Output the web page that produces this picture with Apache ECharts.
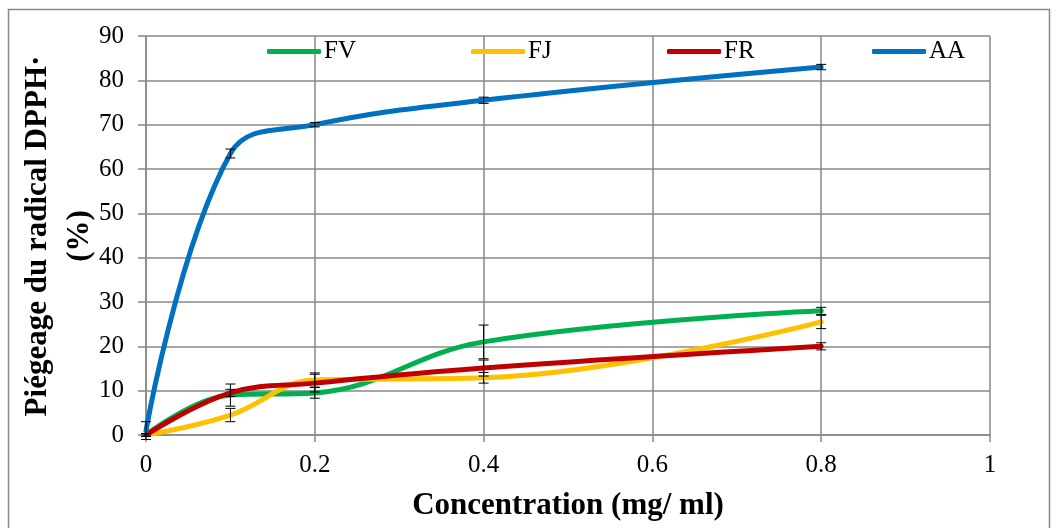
<!DOCTYPE html>
<html><head><meta charset="utf-8">
<script src="https://cdn.jsdelivr.net/npm/echarts@6/dist/echarts.min.js"></script>
<style>html,body{margin:0;padding:0;background:#fff}#c{width:1057px;height:528px}</style>
</head><body><div id="c"></div>
<script>
const concentrations = [0, 0.1, 0.2, 0.4, 0.8];
const seriesNames = ['FV', 'FJ', 'FR', 'AA'];
const FV = [0, 9, 9.5, 21, 28];
const FJ = [0, 4.5, 12.4, 12.9, 25.5];
const FR = [0, 9.5, 11.7, 15.1, 20];
const AA = [1, 63.5, 70, 75.5, 83];
const FV_err = [0.3, 2.5, 1.2, 3.8, 0.8];
const FJ_err = [0.3, 1.5, 1.6, 1.2, 1.5];
const FR_err = [0.3, 0.8, 2.0, 1.8, 0.8];
const AA_err = [2, 1, 0.5, 0.7, 0.6];
const yTicks = [0, 10, 20, 30, 40, 50, 60, 70, 80, 90];
const xTicks = [0, 0.2, 0.4, 0.6, 0.8, 1];
const yTitle = ['Piégeage du radical DPPH·', '(%)'];
const xTitle = 'Concentration (mg/ ml)';

const colors = {FV:'#00B050', FJ:'#FFC000', FR:'#C00000', AA:'#0070C0'};
const values = {FV, FJ, FR, AA};
const errs = {FV:FV_err, FJ:FJ_err, FR:FR_err, AA:AA_err};
const serif = '"Liberation Serif","Times New Roman",serif';

const series = [];
seriesNames.forEach(n => {
  series.push({
    name: n, type: 'line', smooth: 0.4, symbol: 'none', z: 3,
    lineStyle: {color: colors[n], width: 5, cap: 'round'},
    itemStyle: {color: colors[n]},
    data: concentrations.map((x, i) => [x, values[n][i]])
  });
});
seriesNames.forEach(n => {
  series.push({
    type: 'custom', z: 4, silent: true,
    data: concentrations.map((x, i) => [x, values[n][i] - errs[n][i], values[n][i] + errs[n][i]]),
    renderItem: function (params, api) {
      const lo = api.coord([api.value(0), api.value(1)]);
      const hi = api.coord([api.value(0), api.value(2)]);
      const w = 5;
      const st = {stroke: '#000', lineWidth: 1};
      return {type: 'group', children: [
        {type: 'line', shape: {x1: lo[0], y1: lo[1], x2: hi[0], y2: hi[1]}, style: st},
        {type: 'line', shape: {x1: lo[0]-w, y1: lo[1], x2: lo[0]+w, y2: lo[1]}, style: st},
        {type: 'line', shape: {x1: hi[0]-w, y1: hi[1], x2: hi[0]+w, y2: hi[1]}, style: st}
      ]};
    }
  });
});

const legendLefts = [262, 466, 662, 867];
const legends = seriesNames.map((n, i) => ({
  data: [n], left: legendLefts[i], top: 34, itemWidth: 54, itemHeight: 5, itemGap: 0,
  icon: 'roundRect',
  textStyle: {fontFamily: serif, fontSize: 25, color: '#000', padding: [0,0,0,-2]},
  selectedMode: false
}));

const chart = echarts.init(document.getElementById('c'), null, {renderer: 'canvas'});
chart.setOption({
  animation: false,
  backgroundColor: '#fff',
  grid: {left: 146, right: 67, top: 36, bottom: 93, containLabel: false},
  legend: legends,
  graphic: [
    {type: 'rect', shape: {x: 8.5, y: 9.5, width: 1041, height: 530}, style: {fill: 'none', stroke: '#888', lineWidth: 1.5}, z: -1},
    {type: 'text', x: 38, y: 236, rotation: Math.PI / 2,
      style: {text: yTitle[0], fontFamily: serif, fontSize: 31, fontWeight: 'bold', fill: '#000', align: 'center', verticalAlign: 'middle'}},
    {type: 'text', x: 80, y: 236, rotation: Math.PI / 2,
      style: {text: yTitle[1], fontFamily: serif, fontSize: 31, fontWeight: 'bold', fill: '#000', align: 'center', verticalAlign: 'middle'}}
  ],
  xAxis: {
    type: 'value', min: 0, max: 1, interval: 0.2,
    name: xTitle, nameLocation: 'middle', nameGap: 55,
    nameTextStyle: {fontFamily: serif, fontSize: 31, fontWeight: 'bold', color: '#000'},
    axisLine: {show: true, lineStyle: {color: '#888', width: 1.5}},
    axisTick: {show: true, length: 7, lineStyle: {color: '#888', width: 1.5}},
    axisLabel: {fontFamily: serif, fontSize: 25, color: '#000', margin: 18,
      formatter: v => xTicks.includes(+v.toFixed(1)) ? String(+v.toFixed(1)) : ''},
    splitLine: {show: true, lineStyle: {color: '#888', width: 1.5}}
  },
  yAxis: {
    type: 'value', min: 0, max: 90, interval: 10,
    axisLine: {show: true, lineStyle: {color: '#888', width: 1.5}},
    axisTick: {show: true, length: 8, lineStyle: {color: '#888', width: 1.5}},
    axisLabel: {fontFamily: serif, fontSize: 25, color: '#000', margin: 22,
      formatter: v => yTicks.includes(v) ? String(v) : ''},
    splitLine: {show: true, lineStyle: {color: '#888', width: 1.5}}
  },
  series: series
});
</script></body></html>
